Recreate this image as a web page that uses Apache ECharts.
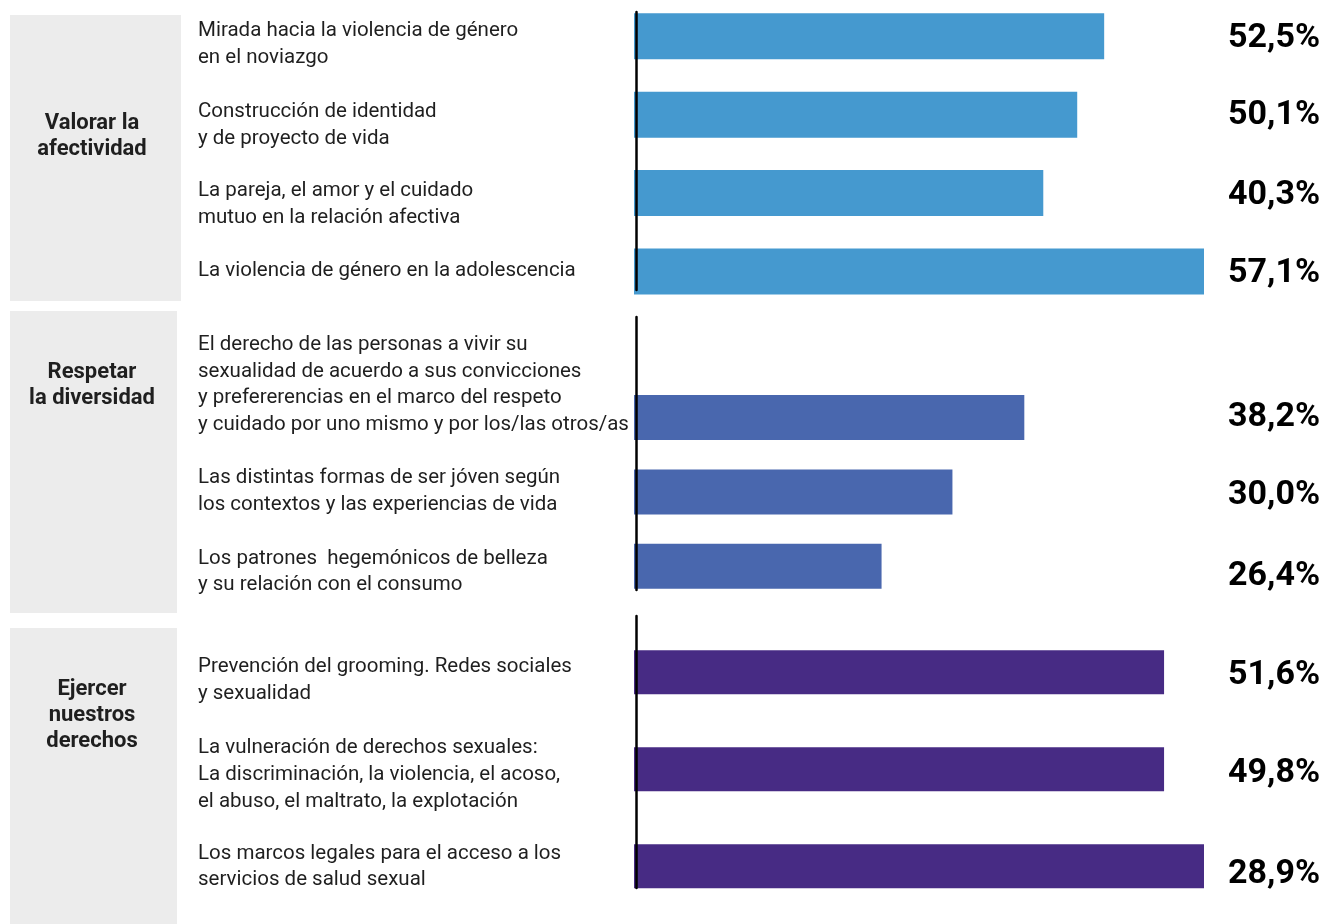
<!DOCTYPE html>
<html>
<head>
<meta charset="utf-8">
<script src="https://cdn.jsdelivr.net/npm/echarts@6/dist/echarts.min.js"></script>
<style>
  html, body { margin: 0; padding: 0; background: #ffffff; }
  #chart { width: 1331px; height: 924px; }
</style>
</head>
<body>
<div id="chart"></div>
<script>
// ---------------- DATA ----------------
const groupNames = ['Valorar la\nafectividad', 'Respetar\nla diversidad', 'Ejercer\nnuestros\nderechos'];

const topicsAfectividad = [
  'Mirada hacia la violencia de género\nen el noviazgo',
  'Construcción de identidad\ny de proyecto de vida',
  'La pareja, el amor y el cuidado\nmutuo en la relación afectiva',
  'La violencia de género en la adolescencia'
];
const topicsDiversidad = [
  'El derecho de las personas a vivir su\nsexualidad de acuerdo a sus convicciones\ny prefererencias en el marco del respeto\ny cuidado por uno mismo y por los/las otros/as',
  'Las distintas formas de ser jóven según\nlos contextos y las experiencias de vida',
  'Los patrones  hegemónicos de belleza\ny su relación con el consumo'
];
const topicsDerechos = [
  'Prevención del grooming. Redes sociales\ny sexualidad',
  'La vulneración de derechos sexuales:\nLa discriminación, la violencia, el acoso,\nel abuso, el maltrato, la explotación',
  'Los marcos legales para el acceso a los\nservicios de salud sexual'
];

// Percentages printed next to the bars
const pctAfectividad = [52.5, 50.1, 40.3, 57.1];
const pctDiversidad = [38.2, 30.0, 26.4];
const pctDerechos = [51.6, 49.8, 28.9];

// Bar lengths as drawn in the source picture (they do not follow the printed
// percentages), read on a scale where the longest bar = 57.1
const barAfectividad = [47.1, 44.4, 41.0, 57.1];
const barDiversidad = [39.1, 31.9, 24.8];
const barDerechos = [53.1, 53.1, 57.1];
const axisMax = 57.1;

// ---------------- LAYOUT / STYLE ----------------
const FONT = 'Roboto';
const TEXT = '#1f1f1f';
const CAT_SIZE = 20.5, CAT_LH = 26.6, VAL_SIZE = 34, VAL_LH = 37;
const groups = [
  { topics: topicsAfectividad, pct: pctAfectividad, bars: barAfectividad,
    panel: { left: 10, top: 15, width: 171, height: 286 }, titleTop: 110,
    line: { top: 12, height: 278 }, grid: { top: -2.9, height: 313.5 },
    barWidth: 46, color: '#4599cf', labelShift: [8, 10.5, 11.5, -1], valueShift: [2, 1, 2, 2] },
  { topics: topicsDiversidad, pct: pctDiversidad, bars: barDiversidad,
    panel: { left: 10, top: 311, width: 167, height: 302 }, titleTop: 359.5,
    line: { top: 317, height: 273 }, grid: { top: 380.4, height: 223 },
    barWidth: 45, color: '#4967ae', labelShift: [-32.5, -0.5, 5.5], valueShift: [0, 4, 10.5] },
  { topics: topicsDerechos, pct: pctDerechos, bars: barDerechos,
    panel: { left: 10, top: 628, width: 167, height: 310 }, titleTop: 676,
    line: { top: 616, height: 272 }, grid: { top: 623.8, height: 291 },
    barWidth: 44, color: '#472b84', labelShift: [8, 5.5, 0.5], valueShift: [3, 4, 8] }
];
const BAR_LEFT = 634, BAR_WIDTH = 570, LINE_X = 636, LABEL_X = 198, VALUE_GAP = 24;

// rich-text helpers: a thin spacer line shifts a label block up or down
const rich = {
  t: { fontFamily: FONT, fontSize: CAT_SIZE, lineHeight: CAT_LH, color: TEXT, align: 'left' },
  v: { fontFamily: FONT, fontSize: VAL_SIZE, fontWeight: 'bold', lineHeight: VAL_LH, color: '#000', align: 'left' }
};
function spacer(shift) {
  const h = Math.max(1, Math.round(Math.abs(shift) * 2));
  const key = 'sp' + h;
  if (!rich[key]) rich[key] = { fontFamily: FONT, fontSize: 1, lineHeight: h, height: h, color: 'rgba(0,0,0,0)' };
  return '{' + key + '| }';
}
function richBlock(text, style, shift) {
  const body = text.split('\n').map(l => '{' + style + '|' + l + '}').join('\n');
  if (Math.abs(shift) < 0.5) return body;
  return shift > 0 ? spacer(shift) + '\n' + body : body + '\n' + spacer(shift);
}
function fmtPct(v) {
  return v.toFixed(1).replace('.', ',') + '%';
}

// pre-build all label strings so every rich style exists before setOption
groups.forEach(g => {
  g.catText = g.topics.map((t, k) => richBlock(t, 't', g.labelShift[k] || 0));
  g.valText = g.pct.map((v, k) => richBlock(fmtPct(v), 'v', g.valueShift[k] || 0));
});

const grid = [], xAxis = [], yAxis = [], series = [], title = [];

groups.forEach((g, i) => {
  // grey panel
  const pIdx = grid.length;
  grid.push(Object.assign({ show: true, backgroundColor: '#ececec', borderWidth: 0, outerBoundsMode: 'none' }, g.panel));
  xAxis.push({ gridIndex: pIdx, type: 'value', show: false });
  yAxis.push({ gridIndex: pIdx, type: 'value', show: false });

  // group title
  title.push({
    text: groupNames[i], left: 92, top: g.titleTop, padding: 0,
    textAlign: 'center', textVerticalAlign: 'top',
    textStyle: { fontFamily: FONT, fontSize: 22, fontWeight: 'bold', lineHeight: 26, color: TEXT }
  });

  // vertical axis line
  const lIdx = grid.length;
  grid.push({ left: LINE_X, width: 20, top: g.line.top, height: g.line.height, outerBoundsMode: 'none' });
  xAxis.push({ gridIndex: lIdx, type: 'value', show: false });
  yAxis.push({
    gridIndex: lIdx, type: 'category', data: [''], z: 10,
    axisLine: { show: true, onZero: false, lineStyle: { color: '#000', width: 2.5 } },
    axisTick: { show: false }, axisLabel: { show: false }, splitLine: { show: false }
  });

  // bars
  const bIdx = grid.length;
  grid.push({ left: BAR_LEFT, width: BAR_WIDTH, top: g.grid.top, height: g.grid.height, outerBoundsMode: 'none' });
  const xi = xAxis.length;
  xAxis.push({ gridIndex: bIdx, type: 'value', min: 0, max: axisMax, show: false });
  const yi = yAxis.length;
  yAxis.push({
    gridIndex: bIdx, type: 'category', inverse: true, position: 'left',
    data: g.topics,
    axisLine: { show: false }, axisTick: { show: false }, splitLine: { show: false },
    axisLabel: {
      interval: 0, align: 'left', margin: BAR_LEFT - LABEL_X,
      fontFamily: FONT, fontSize: CAT_SIZE, color: TEXT,
      formatter: (val, idx) => g.catText[idx],
      rich: rich
    }
  });
  yAxis.push({
    gridIndex: bIdx, type: 'category', inverse: true, position: 'right',
    data: g.pct.map(fmtPct),
    axisLine: { show: false }, axisTick: { show: false }, splitLine: { show: false },
    axisLabel: {
      interval: 0, align: 'left', margin: VALUE_GAP,
      fontFamily: FONT, fontSize: VAL_SIZE, fontWeight: 'bold', color: '#000',
      formatter: (val, idx) => g.valText[idx],
      rich: rich
    }
  });
  series.push({
    type: 'bar', xAxisIndex: xi, yAxisIndex: yi, data: g.bars,
    barWidth: g.barWidth, itemStyle: { color: g.color }, silent: true, clip: false
  });
});

const chart = echarts.init(document.getElementById('chart'), null, { renderer: 'canvas' });
chart.setOption({
  animation: false,
  backgroundColor: '#ffffff',
  title, grid, xAxis, yAxis, series,
  tooltip: { show: false }
});
</script>
</body>
</html>
